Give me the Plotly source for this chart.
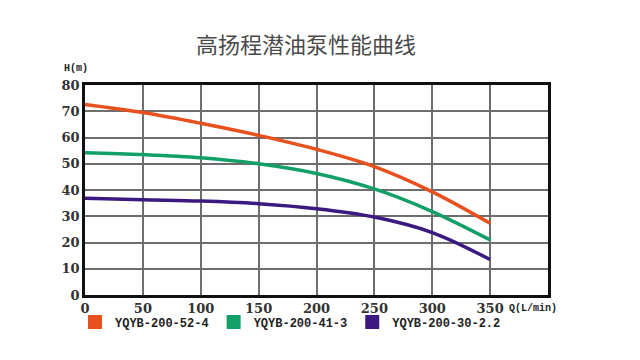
import plotly.graph_objects as go

flow = [0, 50, 100, 150, 200, 250, 300, 350]
head_52_4 = [72.6, 69.5, 65.4, 60.8, 55.5, 48.9, 39.3, 27.3]
head_41_3 = [54.2, 53.5, 52.3, 50.0, 46.3, 40.4, 31.8, 21.0]
head_30_22 = [36.9, 36.3, 35.8, 34.8, 32.9, 29.7, 23.8, 13.5]
series_names = ["YQYB-200-52-4", "YQYB-200-41-3", "YQYB-200-30-2.2"]
colors = ["#E8501E", "#13A068", "#3A1A80"]
x_ticks = [0, 50, 100, 150, 200, 250, 300, 350]
y_ticks = [0, 10, 20, 30, 40, 50, 60, 70, 80]

fig = go.Figure()
for name, ys, c in zip(series_names, [head_52_4, head_41_3, head_30_22], colors):
    fig.add_trace(go.Scatter(x=flow, y=ys, mode="lines", line=dict(color=c, width=3.5, shape="spline"),
                             showlegend=False, name=name))
for name, c in zip(series_names, colors):
    fig.add_trace(go.Scatter(x=[None], y=[None], mode="markers", name=name,
                             marker=dict(symbol="square", size=14, color=c)))

tickfont = dict(family="DejaVu Serif", size=13, color="#333", weight="bold")
fig.update_layout(
    width=640, height=360,
    margin=dict(l=85, r=92, t=85, b=65, autoexpand=False),
    paper_bgcolor="white", plot_bgcolor="white",
    title=dict(text="高扬程潜油泵性能曲线", x=306/640, xref="container", xanchor="center",
               y=1-45/360, yref="container", yanchor="middle",
               font=dict(family="Noto Sans CJK SC", size=22, color="#4a4a4a")),
    xaxis=dict(range=[0, 400], tickvals=x_ticks, showgrid=True, gridcolor="#6e6e6e", gridwidth=1.5,
               zeroline=False, showline=True, linecolor="#111", linewidth=2.5, mirror=True,
               tickfont=tickfont, ticks="", ticklen=0, automargin=False),
    yaxis=dict(range=[0, 80], tickvals=y_ticks, showgrid=True, gridcolor="#6e6e6e", gridwidth=1.5,
               zeroline=False, showline=True, linecolor="#111", linewidth=2.5, mirror=True,
               tickfont=tickfont, ticks="", ticklen=0, automargin=False),
    legend=dict(orientation="h", x=75/640, xref="container", xanchor="left",
                y=1-322/360, yref="container", yanchor="middle",
                font=dict(family="Liberation Mono", size=12, color="#222", weight="bold"),
                itemwidth=30, tracegroupgap=0, bgcolor="rgba(0,0,0,0)"),
    annotations=[
        dict(text="H(m)", xref="paper", yref="paper", x=-0.05, y=1.08, xanchor="left", yanchor="middle",
             showarrow=False, font=dict(family="Liberation Mono", size=10, color="#222", weight="bold")),
        dict(text="Q(L/min)", xref="paper", yref="paper", x=0.912, y=-0.065, xanchor="left", yanchor="middle",
             showarrow=False, font=dict(family="Liberation Mono", size=10, color="#222", weight="bold")),
    ],
)
fig.write_html("out.html", post_script="document.body.style.margin='0';",
               config={"displayModeBar": False})
